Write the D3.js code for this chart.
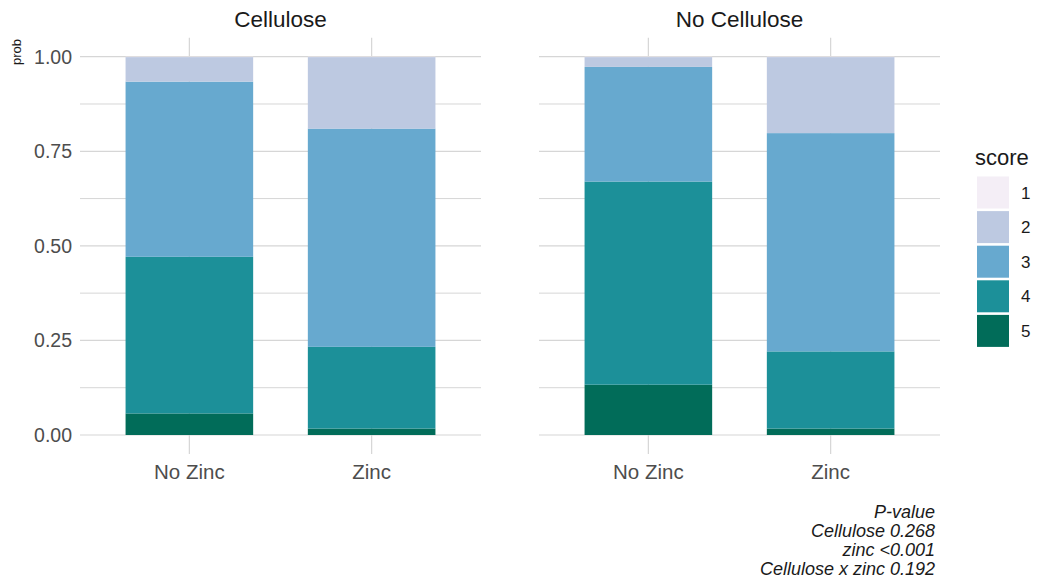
<!DOCTYPE html>
<html>
<head>
<meta charset="utf-8">
<script src="https://cdn.jsdelivr.net/npm/d3@7"></script>
<style>
  html, body { margin: 0; padding: 0; background: #fff; }
  svg { display: block; font-family: "Liberation Sans", Arial, sans-serif; }
</style>
</head>
<body>
<svg id="chart" width="1037" height="586"></svg>
<script>
// Facets, x categories and ordinal scores
const facets = ["Cellulose", "No Cellulose"];
const treatments = ["No Zinc", "Zinc"];
const scores = ["1", "2", "3", "4", "5"];

// Predicted probability of each score; order of entries:
// Cellulose/No Zinc, Cellulose/Zinc, No Cellulose/No Zinc, No Cellulose/Zinc
const prob1 = [0.001, 0.001, 0.001, 0.001];
const prob2 = [0.065, 0.189, 0.026, 0.201];
const prob3 = [0.463, 0.577, 0.303, 0.577];
const prob4 = [0.414, 0.216, 0.537, 0.204];
const prob5 = [0.057, 0.017, 0.133, 0.017];

const yTicks = [0, 0.25, 0.5, 0.75, 1];
const yMinor = [0.125, 0.375, 0.625, 0.875];

const pLines = ["P-value", "Cellulose 0.268", "zinc <0.001", "Cellulose x zinc 0.192"];

const palette = ["#f4eef6", "#bdc9e1", "#67a9cf", "#1c9099", "#016c59"];

// Build the long table
const probs = [prob1, prob2, prob3, prob4, prob5];
const rows = [];
facets.forEach((f, fi) => {
  treatments.forEach((t, ti) => {
    const i = fi * treatments.length + ti;
    const r = { facet: f, treatment: t };
    scores.forEach((s, si) => { r[s] = probs[si][i]; });
    rows.push(r);
  });
});

const svg = d3.select("#chart");

const panelW = 401;
const panelLefts = [80, 539];
const yZero = 435, yOne = 56.7;
const y = d3.scaleLinear().domain([0, 1]).range([yZero, yOne]);
const [yLo, yHi] = [y(-0.05), y(1.05)];
const color = d3.scaleOrdinal().domain(scores).range(palette);

// Bottom score stacked first
const stack = d3.stack().keys(scores.slice().reverse());

const gridColor = "#d6d6d6";

facets.forEach((f, fi) => {
  const left = panelLefts[fi];
  const x = d3.scalePoint().domain(treatments).range([left, left + panelW]).padding(0.6);
  const barW = 0.7 * x.step();
  const g = svg.append("g");

  // Grid lines
  g.selectAll("line.minor").data(yMinor).join("line")
    .attr("x1", left).attr("x2", left + panelW)
    .attr("y1", d => y(d)).attr("y2", d => y(d))
    .attr("stroke", gridColor).attr("stroke-width", 1);
  g.selectAll("line.major").data(yTicks).join("line")
    .attr("x1", left).attr("x2", left + panelW)
    .attr("y1", d => y(d)).attr("y2", d => y(d))
    .attr("stroke", gridColor).attr("stroke-width", 1.2);
  g.selectAll("line.vert").data(treatments).join("line")
    .attr("x1", d => x(d)).attr("x2", d => x(d))
    .attr("y1", yHi).attr("y2", yLo)
    .attr("stroke", gridColor).attr("stroke-width", 1.2);

  // Stacked bars
  const data = rows.filter(r => r.facet === f);
  const series = stack(data);
  g.selectAll("g.layer").data(series).join("g")
    .attr("fill", d => color(d.key))
    .selectAll("rect").data(d => d).join("rect")
      .attr("x", d => x(d.data.treatment) - barW / 2)
      .attr("width", barW)
      .attr("y", d => y(d[1]))
      .attr("height", d => y(d[0]) - y(d[1]));

  // Facet title
  svg.append("text")
    .attr("x", left + panelW / 2).attr("y", 27)
    .attr("text-anchor", "middle")
    .attr("font-size", 22.5).attr("fill", "#1a1a1a")
    .text(f);

  // X axis labels
  g.selectAll("text.xl").data(treatments).join("text")
    .attr("x", d => x(d)).attr("y", 479)
    .attr("text-anchor", "middle")
    .attr("font-size", 20.5).attr("fill", "#4d4d4d")
    .text(d => d);
});

// Y axis labels
svg.append("g").selectAll("text").data(yTicks).join("text")
  .attr("x", 72).attr("y", d => y(d))
  .attr("dy", "0.36em")
  .attr("text-anchor", "end")
  .attr("font-size", 19.5).attr("fill", "#4d4d4d")
  .text(d => d3.format(".2f")(d));

// Y axis title
svg.append("text")
  .attr("transform", "translate(21,39) rotate(-90)")
  .attr("text-anchor", "end")
  .attr("font-size", 13).attr("fill", "#1a1a1a")
  .text("prob");

// Legend
const legend = svg.append("g").attr("transform", "translate(976,0)");
legend.append("text")
  .attr("x", -1).attr("y", 165)
  .attr("font-size", 22).attr("fill", "#1a1a1a")
  .text("score");
const keyStep = 34.6, keyTop = 176.5, keySize = 32;
legend.selectAll("rect").data(scores).join("rect")
  .attr("x", 1).attr("y", (d, i) => keyTop + i * keyStep)
  .attr("width", keySize).attr("height", keySize)
  .attr("fill", d => color(d));
legend.selectAll("text.lab").data(scores).join("text")
  .attr("x", 45).attr("y", (d, i) => keyTop + i * keyStep + keySize / 2)
  .attr("dy", "0.36em")
  .attr("font-size", 17).attr("fill", "#1a1a1a")
  .text(d => d);

// P-value note
svg.append("g").selectAll("text").data(pLines).join("text")
  .attr("x", 935).attr("y", (d, i) => 518 + i * 18.9)
  .attr("text-anchor", "end")
  .attr("font-size", 18).attr("font-style", "italic").attr("fill", "#1a1a1a")
  .text(d => d);
</script>
</body>
</html>
